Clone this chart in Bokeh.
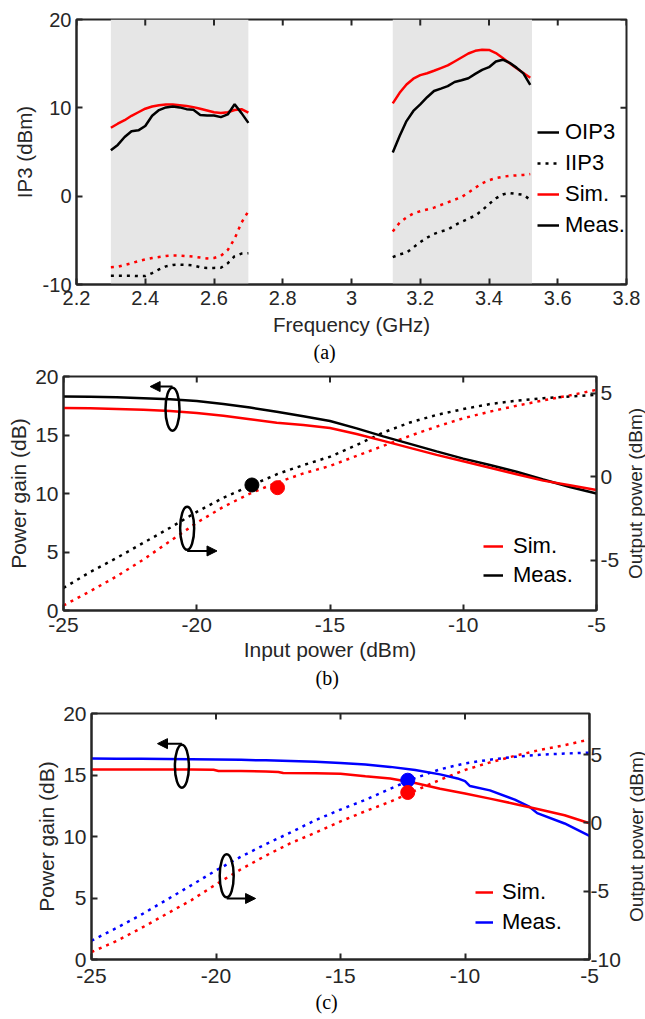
import math
from bokeh.plotting import figure
from bokeh.models import (Range1d, LinearAxis, FixedTicker, BoxAnnotation, Legend,
                          LegendItem, Arrow, NormalHead, Title)
from bokeh.layouts import row
from bokeh.embed import file_html
from bokeh.resources import INLINE

# ---------------- Panel (a): IP3 versus frequency ----------------
freq_ticks = [2.2, 2.4, 2.6, 2.8, 3.0, 3.2, 3.4, 3.6, 3.8]
freq_tick_labels = ["2.2", "2.4", "2.6", "2.8", "3", "3.2", "3.4", "3.6", "3.8"]
ip3_ticks = [-10, 0, 10, 20]
ip3_tick_labels = ["-10", "0", "10", "20"]
shaded_bands = [(2.30, 2.70), (3.12, 3.525)]

freq_band1 = [2.30, 2.32, 2.34, 2.36, 2.38, 2.40, 2.42, 2.44, 2.46, 2.48, 2.50,
              2.52, 2.54, 2.56, 2.58, 2.60, 2.62, 2.64, 2.66, 2.68, 2.70]
oip3_meas_band1 = [5.2, 5.8, 6.7, 7.35, 7.45, 7.95, 9.1, 9.75, 10.05, 10.15, 10.05,
                   9.85, 9.78, 9.2, 9.13, 9.13, 8.95, 9.25, 10.4, 9.4, 8.3]
oip3_sim_band1 = [7.75, 8.2, 8.6, 9.1, 9.5, 9.9, 10.15, 10.3, 10.37, 10.38, 10.3,
                  10.2, 10.08, 9.9, 9.7, 9.5, 9.42, 9.5, 9.75, 9.85, 9.45]
iip3_meas_band1 = [-9.0, -9.0, -9.0, -9.0, -9.05, -9.05, -8.7, -8.3, -7.95, -7.78, -7.75,
                   -7.78, -7.85, -8.05, -8.12, -8.12, -8.1, -7.6, -6.8, -6.5, -6.45]
iip3_sim_band1 = [-8.05, -8.0, -7.8, -7.6, -7.35, -7.15, -7.0, -6.88, -6.78, -6.72, -6.72,
                  -6.78, -6.85, -6.95, -7.05, -7.0, -6.75, -6.1, -4.8, -3.0, -1.7]

freq_band2 = [3.12, 3.14, 3.16, 3.18, 3.20, 3.22, 3.24, 3.26, 3.28, 3.30, 3.32,
              3.34, 3.36, 3.38, 3.40, 3.42, 3.44, 3.46, 3.48, 3.50, 3.52]
oip3_meas_band2 = [4.95, 6.8, 8.5, 9.65, 10.4, 11.2, 11.9, 12.17, 12.45, 12.92, 13.12,
                   13.35, 13.85, 14.3, 14.6, 15.25, 15.45, 15.1, 14.55, 13.9, 12.6]
oip3_sim_band2 = [10.5, 11.7, 12.65, 13.3, 13.7, 13.92, 14.2, 14.5, 14.8, 15.25, 15.7,
                  16.15, 16.45, 16.57, 16.55, 16.2, 15.65, 15.05, 14.48, 13.95, 13.4]
iip3_meas_band2 = [-6.9, -6.6, -6.4, -5.8, -5.2, -4.7, -4.27, -4.0, -3.8, -3.3, -2.9,
                   -2.55, -2.2, -1.6, -0.9, -0.25, 0.2, 0.35, 0.25, 0.15, -0.4]
iip3_sim_band2 = [-4.0, -3.0, -2.4, -1.95, -1.7, -1.5, -1.3, -1.0, -0.7, -0.4, -0.1,
                  0.4, 0.95, 1.45, 1.8, 2.05, 2.2, 2.3, 2.35, 2.4, 2.5]

# ---------------- Panel (b): gain / output power versus input power ----------------
pin_ticks = [-25, -20, -15, -10, -5]
pin_tick_labels = ["-25", "-20", "-15", "-10", "-5"]
gain_ticks = [0, 5, 10, 15, 20]
gain_tick_labels = ["0", "5", "10", "15", "20"]
out_ticks_b = [-5, 0, 5]
out_tick_labels_b = ["-5", "0", "5"]
pin_b = [-25, -24, -23, -22, -21, -20, -19, -18, -17, -16, -15,
         -14, -13, -12, -11, -10, -9, -8, -7, -6, -5]
gain_meas_b = [18.3, 18.27, 18.22, 18.15, 18.05, 17.9, 17.65, 17.35, 16.98, 16.6, 16.2,
               15.57, 14.88, 14.24, 13.6, 12.98, 12.43, 11.86, 11.2, 10.55, 10.0]
gain_sim_b = [17.3, 17.28, 17.22, 17.15, 17.05, 16.88, 16.65, 16.35, 16.05, 15.85, 15.6,
              15.08, 14.5, 13.9, 13.3, 12.75, 12.2, 11.65, 11.1, 10.7, 10.3]
out_meas_b = [-6.65, -5.7, -4.85, -3.95, -3.05, -2.1, -1.25, -0.55, 0.15, 0.7, 1.2,
              1.9, 2.65, 3.25, 3.7, 4.05, 4.35, 4.55, 4.7, 4.8, 4.9]
out_sim_b = [-7.7, -6.85, -5.95, -4.95, -3.85, -2.75, -1.8, -1.0, -0.35, 0.2, 0.65,
             1.25, 1.85, 2.45, 3.0, 3.5, 3.9, 4.25, 4.57, 4.87, 5.2]
p1db_pin_b = [-17.93, -16.97]
p1db_out_b = [-0.49, -0.65]
p1db_color_b = ["#000000", "#ff0000"]
ellipse_pin_b = [-20.91, -20.36]
ellipse_gain_b = [17.21, 7.02]
arrow_b = [(-20.91, 19.14, -21.75, 19.14), (-20.36, 5.09, -19.24, 5.09)]

# ---------------- Panel (c) ----------------
out_ticks_c = [-10, -5, 0, 5]
out_tick_labels_c = ["-10", "-5", "0", "5"]
pin_c_meas = [-25, -24, -23, -22, -21, -20, -19, -18, -17, -16, -15, -14, -13, -12, -11,
              -10.3, -10.0, -9.8, -9, -8, -7.4, -7.1, -6, -5]
gain_meas_c = [16.34, 16.33, 16.32, 16.3, 16.28, 16.26, 16.23, 16.19, 16.14, 16.08, 15.98,
               15.86, 15.66, 15.4, 15.05, 14.72, 14.5, 14.1, 13.75, 13.0, 12.4, 11.9, 11.06, 10.05]
pin_c_sim = [-25, -24, -23, -22, -21, -20.1, -19.9, -19, -18, -17.5, -17.3, -16, -15,
             -14, -13, -12, -11, -10, -9, -8, -7, -6, -5]
gain_sim_c = [15.45, 15.45, 15.45, 15.45, 15.44, 15.43, 15.33, 15.32, 15.28, 15.25, 15.17,
              15.14, 15.1, 14.9, 14.72, 14.35, 13.88, 13.5, 13.08, 12.65, 12.2, 11.73, 11.08]
pin_c = [-25, -24, -23, -22, -21, -20, -19, -18, -17, -16, -15,
         -14, -13, -12, -11, -10, -9, -8, -7, -6, -5]
out_meas_c = [-8.62, -7.7, -6.72, -5.65, -4.58, -3.48, -2.48, -1.56, -0.7, 0.2, 0.97,
              1.68, 2.5, 3.27, 3.92, 4.35, 4.62, 4.83, 4.98, 5.07, 5.13]
out_sim_c = [-9.45, -8.65, -7.7, -6.68, -5.67, -4.5, -3.4, -2.4, -1.48, -0.72, 0.1,
             0.85, 1.55, 2.35, 3.15, 3.87, 4.42, 4.9, 5.33, 5.68, 6.1]
p1db_pin_c = [-12.3, -12.3]
p1db_out_c = [3.12, 2.22]
p1db_color_c = ["#0000ff", "#ff0000"]
ellipse_pin_c = [-21.37, -19.57]
ellipse_gain_c = [15.72, 6.8]
arrow_c = [(-21.37, 17.55, -22.35, 17.55), (-19.57, 4.96, -18.41, 4.96)]

FONT = "Liberation Sans"
TXT = "#262626"
RED = "#ff0000"
BLUE = "#0000ff"
BLACK = "#000000"
DOT = "3 5"


def style_axis(ax, ticks, tick_labels, fs, label=None, label_fs=None,
               tick_standoff=5, label_standoff=3):
    ax.ticker = FixedTicker(ticks=ticks)
    ax.major_label_overrides = dict(zip(ticks, tick_labels))
    ax.axis_line_color = TXT
    ax.axis_line_width = 2
    ax.major_tick_line_color = TXT
    ax.major_tick_line_width = 2
    ax.major_tick_in = 6
    ax.major_tick_out = 0
    ax.minor_tick_line_color = None
    ax.major_label_text_font = FONT
    ax.major_label_text_color = TXT
    ax.major_label_text_font_size = fs
    ax.major_label_standoff = tick_standoff
    if label:
        ax.axis_label = label
        ax.axis_label_text_font = FONT
        ax.axis_label_text_font_size = label_fs or fs
        ax.axis_label_text_font_style = "normal"
        ax.axis_label_text_color = TXT
        ax.axis_label_standoff = label_standoff


def base_fig(fw, fh, left, right, top, bottom, xr, yr):
    p = figure(frame_width=fw, frame_height=fh, min_border_left=left,
               min_border_right=right, min_border_top=top, min_border_bottom=bottom,
               x_range=xr, y_range=yr, output_backend="svg",
               toolbar_location=None, tools="")
    p.grid.visible = False
    p.outline_line_color = TXT
    p.outline_line_width = 2
    p.background_fill_color = "white"
    p.border_fill_color = "white"
    return p


def mirror_ticks(p, xticks, ytop, yticks=None, xright=None):
    # inward tick marks on the top (and optionally right) frame edge
    p.scatter(xticks, [ytop] * len(xticks), marker="dash", size=12, angle=math.pi / 2,
              line_color=TXT, line_width=2)
    if yticks is not None:
        p.scatter([xright] * len(yticks), yticks, marker="dash", size=12,
                  line_color=TXT, line_width=2)


def caption(p, text, offset, standoff):
    p.add_layout(Title(text=text, align="left", offset=offset, standoff=standoff,
                       text_font="Liberation Serif", text_font_size="20px",
                       text_font_style="normal", text_color="black"), "below")


def right_title(width, top, fh, bottom, text):
    # narrow strip to the right of a panel carrying its right-hand axis title,
    # which reads bottom-to-top like a left-side title
    d = figure(frame_width=1, frame_height=fh, min_border_left=width - 1,
               min_border_right=0, min_border_top=top, min_border_bottom=bottom,
               x_axis_type=None, y_axis_type=None, output_backend="svg",
               toolbar_location=None, tools="")
    d.outline_line_color = None
    d.background_fill_color = "white"
    d.border_fill_color = "white"
    d.add_layout(Title(text=text, align="center", standoff=0, text_font=FONT,
                       text_font_size="19px", text_font_style="normal",
                       text_color=TXT), "left")
    return d


# ======== (a) ========
pa = base_fig(550, 265, 76, 19, 19, 79, Range1d(2.2, 3.8), Range1d(-10, 20))
for lo, hi in shaded_bands:
    pa.add_layout(BoxAnnotation(left=lo, right=hi, fill_color="#e6e6e6", fill_alpha=1.0,
                                line_color=None, level="underlay"))
r_sim1 = pa.line(freq_band1, oip3_sim_band1, line_color=RED, line_width=2.5)
pa.line(freq_band2, oip3_sim_band2, line_color=RED, line_width=2.5)
pa.line(freq_band1, iip3_sim_band1, line_color=RED, line_width=2.5, line_dash=DOT)
pa.line(freq_band2, iip3_sim_band2, line_color=RED, line_width=2.5, line_dash=DOT)
r_meas1 = pa.line(freq_band1, oip3_meas_band1, line_color=BLACK, line_width=2.5)
pa.line(freq_band2, oip3_meas_band2, line_color=BLACK, line_width=2.5)
r_iip3 = pa.line(freq_band1, iip3_meas_band1, line_color=BLACK, line_width=2.5, line_dash=DOT)
pa.line(freq_band2, iip3_meas_band2, line_color=BLACK, line_width=2.5, line_dash=DOT)
mirror_ticks(pa, freq_ticks, pa.y_range.end, ip3_ticks, pa.x_range.end)

style_axis(pa.xaxis[0], freq_ticks, freq_tick_labels, "20px", label="Frequency (GHz)",
           label_fs="20.5px", tick_standoff=6, label_standoff=5)
style_axis(pa.yaxis[0], ip3_ticks, ip3_tick_labels, "20px", label="IP3 (dBm)",
           label_fs="20.5px", tick_standoff=5, label_standoff=4)

leg_a = Legend(items=[LegendItem(label="OIP3", renderers=[r_meas1]),
                      LegendItem(label="IIP3", renderers=[r_iip3]),
                      LegendItem(label="Sim.", renderers=[r_sim1]),
                      LegendItem(label="Meas.", renderers=[r_meas1])],
               location=(461, 46), orientation="vertical", border_line_color=None,
               background_fill_alpha=0, padding=0, margin=0, spacing=5,
               glyph_width=22, glyph_height=24, label_height=24, label_standoff=6,
               label_text_font=FONT, label_text_font_size="22px", label_text_color=BLACK)
pa.add_layout(leg_a)
caption(pa, "(a)", 237, 1)


# ======== (b) & (c) helper ========
def power_fig(fw, fh, left, right, top, bottom, out_range, out_ticks, out_labels,
              show_xlabel, tick_fs, right_tick_standoff, x_tick_standoff):
    p = base_fig(fw, fh, left, right, top, bottom, Range1d(-25, -5), Range1d(0, 20))
    p.extra_y_ranges = {"out": Range1d(*out_range)}
    style_axis(p.xaxis[0], pin_ticks, pin_tick_labels, tick_fs,
               label="Input power (dBm)" if show_xlabel else None,
               tick_standoff=x_tick_standoff, label_standoff=3)
    style_axis(p.yaxis[0], gain_ticks, gain_tick_labels, tick_fs, label="Power gain (dB)",
               tick_standoff=5, label_standoff=2)
    r_ax = LinearAxis(y_range_name="out")
    style_axis(r_ax, out_ticks, out_labels, tick_fs, tick_standoff=right_tick_standoff)
    p.add_layout(r_ax, "right")
    mirror_ticks(p, pin_ticks, p.y_range.end)
    return p


def ellipses_arrows(p, ex, ey, arrows):
    p.ellipse(x=ex, y=ey, width=14, height=43, width_units="screen",
              height_units="screen", fill_color=None, line_color=BLACK, line_width=2.5)
    for x0, y0, x1, y1 in arrows:
        p.add_layout(Arrow(x_start=x0, y_start=y0, x_end=x1, y_end=y1, line_width=2,
                           line_color=BLACK,
                           end=NormalHead(size=10, fill_color=BLACK, line_color=BLACK,
                                          line_width=1)))


# ======== (b) ========
pb = power_fig(533, 234, 63, 26, 13, 81, (-8, 6), out_ticks_b, out_tick_labels_b, True,
               "21px", 4, 7)
pb.line(pin_b, out_meas_b, y_range_name="out", line_color=BLACK, line_width=2.5, line_dash=DOT)
pb.line(pin_b, out_sim_b, y_range_name="out", line_color=RED, line_width=2.5, line_dash=DOT)
rb_meas = pb.line(pin_b, gain_meas_b, line_color=BLACK, line_width=2.5)
rb_sim = pb.line(pin_b, gain_sim_b, line_color=RED, line_width=2.5)
pb.scatter(p1db_pin_b, p1db_out_b, y_range_name="out", size=14, marker="circle",
           fill_color=p1db_color_b, line_color=p1db_color_b)
ellipses_arrows(pb, ellipse_pin_b, ellipse_gain_b, arrow_b)
leg_b = Legend(items=[LegendItem(label="Sim.", renderers=[rb_sim]),
                      LegendItem(label="Meas.", renderers=[rb_meas])],
               location=(420, 22), orientation="vertical", border_line_color=None,
               background_fill_alpha=0, padding=0, margin=0, spacing=3,
               glyph_width=20, glyph_height=24, label_height=24, label_standoff=10,
               label_text_font=FONT, label_text_font_size="22px", label_text_color=BLACK)
pb.add_layout(leg_b)
caption(pb, "(b)", 252, 3)
db = right_title(23, 13, 234, 81, "Output power (dBm)")

# ======== (c) ========
pc = power_fig(498, 246, 91, 32, 22, 58, (-10, 8), out_ticks_c, out_tick_labels_c, False,
               "21px", 1, 9)
pc.line(pin_c, out_meas_c, y_range_name="out", line_color=BLUE, line_width=2.5, line_dash=DOT)
pc.line(pin_c, out_sim_c, y_range_name="out", line_color=RED, line_width=2.5, line_dash=DOT)
rc_meas = pc.line(pin_c_meas, gain_meas_c, line_color=BLUE, line_width=2.5)
rc_sim = pc.line(pin_c_sim, gain_sim_c, line_color=RED, line_width=2.5)
pc.scatter(p1db_pin_c, p1db_out_c, y_range_name="out", size=14, marker="circle",
           fill_color=p1db_color_c, line_color=p1db_color_c)
ellipses_arrows(pc, ellipse_pin_c, ellipse_gain_c, arrow_c)
leg_c = Legend(items=[LegendItem(label="Sim.", renderers=[rc_sim]),
                      LegendItem(label="Meas.", renderers=[rc_meas])],
               location=(384, 24), orientation="vertical", border_line_color=None,
               background_fill_alpha=0, padding=0, margin=0, spacing=4,
               glyph_width=18, glyph_height=24, label_height=24, label_standoff=9,
               label_text_font=FONT, label_text_font_size="22px", label_text_color=BLACK)
pc.add_layout(leg_c)
caption(pc, "(c)", 224, 6)
dc = right_title(24, 22, 246, 58, "Output power (dBm)")

open("out.html", "w").write(file_html([pa, row(pb, db, spacing=0), row(pc, dc, spacing=0)],
                                      INLINE))
